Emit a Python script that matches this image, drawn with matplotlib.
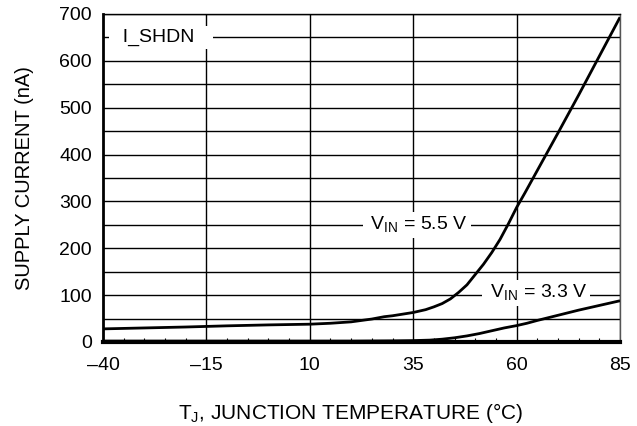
import matplotlib
matplotlib.use("Agg")
import matplotlib.pyplot as plt
from matplotlib.ticker import MultipleLocator

plt.rcParams['font.family'] = ['Liberation Sans', 'DejaVu Sans']

# Junction temperature (°C) and shutdown supply current (nA)
temp_55 = [-40, -30, -20, -10, 0, 10, 15, 20, 25, 28, 30, 35, 38, 40, 42, 44, 46, 48,
           50, 52, 54, 56, 58, 60, 62, 65, 70, 75, 80, 85]
current_55 = [28, 30, 32, 34.5, 36.5, 38, 40, 43, 49, 54, 56, 63, 69, 75, 82, 92, 106, 122,
              144, 166, 191, 219, 252, 287, 318, 366, 446, 527, 610, 693]

temp_33 = [-40, -20, 0, 20, 30, 35, 39, 42, 45, 48, 51, 54, 57, 60, 62.5, 65, 70, 75, 80, 85]
current_33 = [2, 2, 2, 2, 2.5, 3, 4, 6, 9, 13, 18, 24, 30, 35, 40, 46, 57, 68, 78, 88]

x_ticks = [-40, -15, 10, 35, 60, 85]
x_tick_labels = ['\u201340', '\u201315', '10', '35', '60', '85']
y_ticks = [0, 100, 200, 300, 400, 500, 600, 700]

FS_TICK = 14
FS_XLABEL = 15
FS_YLABEL = 14.5

fig = plt.figure(figsize=(6.37, 4.26), dpi=100)
ax = fig.add_axes([103 / 637, 84 / 426, 517 / 637, 328 / 426])

ax.set_xlim(-40, 85)
ax.set_ylim(0, 700)

# grid: vertical every 25 °C, horizontal every 50 nA
for x in x_ticks[1:]:
    ax.axvline(x, color='black', lw=1.0, zorder=1)
for y in range(50, 701, 50):
    ax.axhline(y, color='black', lw=1.0, zorder=1)

ax.plot(temp_55, current_55, color='black', lw=2.0, zorder=5, solid_capstyle='butt')
ax.plot(temp_33, current_33, color='black', lw=2.0, zorder=5, solid_capstyle='butt')

box = dict(facecolor='white', edgecolor='none', pad=2)
ax.text(-26.0, 650, '  I_SHDN   ', fontsize=FS_TICK, ha='center', va='center', bbox=box, zorder=4)
ax.text(35.8, 250, r' V$_{\mathregular{IN}}$ = 5.5 V ', fontsize=FS_TICK, ha='center',
        va='center', bbox=box, zorder=4)
ax.text(64.7, 105, r' V$_{\mathregular{IN}}$ = 3.3 V ', fontsize=FS_TICK, ha='center',
        va='center', bbox=box, zorder=4)

ax.set_xticks(x_ticks)
ax.set_xticklabels(x_tick_labels)
ax.set_yticks(y_ticks)
ax.xaxis.set_minor_locator(MultipleLocator(5))
ax.tick_params(axis='x', which='major', length=0, pad=11, labelsize=FS_TICK)
ax.tick_params(axis='x', which='minor', direction='in', length=3, width=0.8)
ax.tick_params(axis='y', which='major', length=0, pad=8, labelsize=FS_TICK)

for side in ('top', 'right'):
    ax.spines[side].set_linewidth(1.0)
ax.spines['left'].set_linewidth(2.0)
ax.spines['bottom'].set_linewidth(3.0)
ax.spines['right'].set_color('#555555')

ax.set_xlabel('T$_{\\mathregular{J}}$, JUNCTION TEMPERATURE (\u00b0C)', fontsize=FS_XLABEL,
              labelpad=16)
ax.xaxis.set_label_coords(0.48, -0.18)
ax.set_ylabel('SUPPLY CURRENT (nA)', fontsize=FS_YLABEL, labelpad=18)

fig.savefig('out.png', dpi=100)
